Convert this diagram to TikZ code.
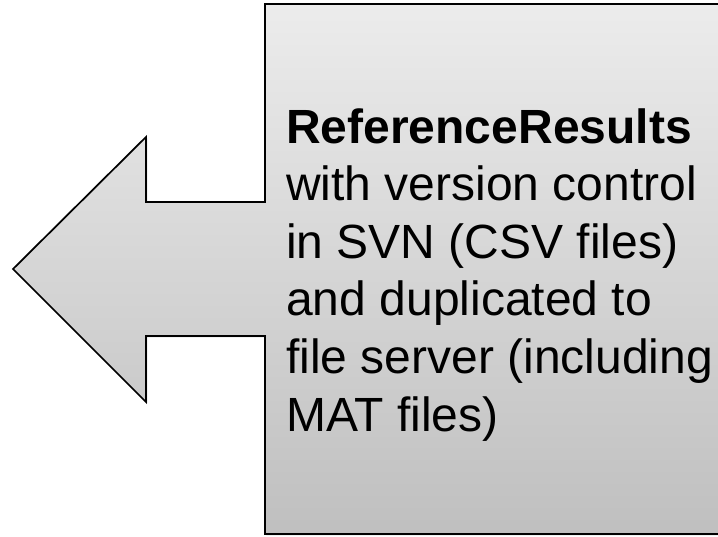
\documentclass[tikz,border=0pt]{standalone}
\usepackage{fontspec}
\setmainfont{Liberation Sans}
\usetikzlibrary{shadows}

\begin{document}
\begin{tikzpicture}[
    x = 0.75pt, % one pixel
    y = -0.75pt, % y grows downwards
    line join = miter
    ]

    \tikzset{callout/.style={
    draw = black,
    line width = 1.3pt,
    top color = gray!15,
    bottom color = gray!50,
    drop shadow = {shadow xshift=1pt, shadow yshift=-1pt, opacity=0.35}
    }}
    \useasboundingbox (0,0) rectangle (718,536);
    \clip (0,0) rectangle (718,536);

    % box with arrow pointing left
    \path[callout] (265,4) -- (730,4) -- (730,534) -- (265,534) -- (265,336)
        -- (146,336) -- (146,402) -- (13,269) -- (146,137) -- (146,202)
        -- (265,202) -- cycle;

    % base anchor sits on the last line
    \node[anchor=base west, inner sep=0, align=left,
        font=\fontsize{36}{43.2}\selectfont] (refres) at (286,431)
        {\textbf{ReferenceResults}\\ with version control\\ in SVN (CSV files)\\
         and duplicated to\\ file server (including\\ MAT files)};
\end{tikzpicture}
\end{document}
